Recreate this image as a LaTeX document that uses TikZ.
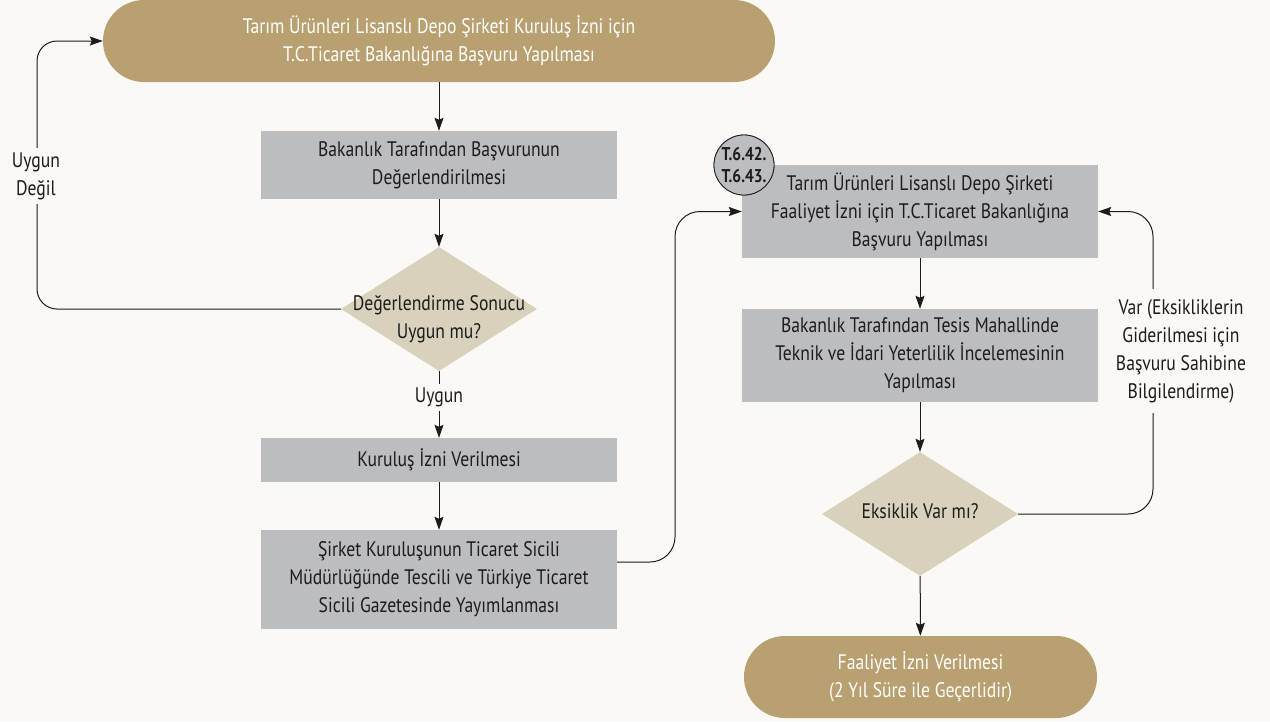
\documentclass[tikz,border=0pt]{standalone}
\usepackage{fontspec}
\setmainfont{PT Sans}[FakeStretch=0.84]
\usetikzlibrary{arrows.meta,shapes.geometric}
\definecolor{bg}{HTML}{FAF9F5}
\definecolor{gold}{HTML}{B9A070}
\definecolor{boxgray}{HTML}{BCBDC1}
\definecolor{diafill}{HTML}{D8D1BB}
\definecolor{ink}{HTML}{1E1B1C}
\tikzset{
 base/.style={font=\fontsize{21}{28}\selectfont, align=center, text=ink, inner sep=0pt},
 gbox/.style={base, fill=boxgray, minimum width=356pt},
 term/.style={base, fill=gold, text=white, rounded corners=41pt, minimum height=82pt},
 dia/.style={diamond, fill=diafill, minimum width=196pt, minimum height=124pt, inner sep=0pt},
 conn/.style={draw=ink, line width=1pt, -{Stealth[length=13pt,width=9pt,inset=2pt]}},
 lbl/.style={base, fill=bg, inner xsep=3pt, inner ysep=4pt},
 badge/.style={circle, draw=ink, line width=0.8pt, fill=boxgray, minimum size=60pt, inner sep=0pt, align=center, text=ink, font=\bfseries\fontsize{18.5}{22}\selectfont},
}
\begin{document}
\begin{tikzpicture}[x=1pt,y=-1pt]
\useasboundingbox (0,0) rectangle (1270,721);
\fill[bg] (0,0) rectangle (1270,721);

\node[term, minimum width=672pt] (s1) at (439,41) {Tarım Ürünleri Lisanslı Depo Şirketi Kuruluş İzni için\\T.C.Ticaret Bakanlığına Başvuru Yapılması};
\node[gbox, minimum height=68pt] (b1) at (439,165) {Bakanlık Tarafından Başvurunun\\Değerlendirilmesi};
\node[dia] (d1) at (439,309) {};
\node[base] (d1t) at (439,319) {Değerlendirme Sonucu\\Uygun mu?};
\node[gbox, minimum height=44pt] (b4) at (439,460) {Kuruluş İzni Verilmesi};
\node[gbox, minimum height=99pt] (b5) at (439,579.5) {Şirket Kuruluşunun Ticaret Sicili\\Müdürlüğünde Tescili ve Türkiye Ticaret\\Sicili Gazetesinde Yayımlanması};

\node[gbox, minimum height=93pt] (b2) at (920,211.5) {Tarım Ürünleri Lisanslı Depo Şirketi\\Faaliyet İzni için T.C.Ticaret Bakanlığına\\Başvuru Yapılması};
\node[gbox, minimum height=93pt] (b3) at (920,355.5) {Bakanlık Tarafından Tesis Mahallinde\\Teknik ve İdari Yeterlilik İncelemesinin\\Yapılması};
\node[dia] (d2) at (920,514) {};
\node[base] (d2t) at (920,511) {Eksiklik Var mı?};
\node[term, minimum width=353pt] (s2) at (920.5,677) {Faaliyet İzni Verilmesi\\(2 Yıl Süre ile Geçerlidir)};
\node[badge] (c1) at (744,165) {T.6.42.\\T.6.43.};

\draw[conn] (s1) -- (b1);
\draw[conn] (b1) -- (d1);
\draw[conn] (d1.south) -- node[lbl,pos=0.39] (u1) {Uygun} (b4.north);
\draw[conn] (b4) -- (b5);
\draw[conn, rounded corners=25pt] ([yshift=17.5pt]b5.east) -- (675,562) -- (675,211.5) -- (b2.west);
\draw[conn] (b2) -- (b3);
\draw[conn] (b3) -- (d2);
\draw[conn] (d2) -- (s2);
\draw[conn, rounded corners=25pt] (d2.east) -- (1153,514) -- (1153,211.5) -- (b2.east);
\node[lbl, inner ysep=10pt] (lv) at (1181,351) {Var (Eksikliklerin\\Giderilmesi için\\Başvuru Sahibine\\Bilgilendirme)};
\draw[conn, rounded corners=20pt] (d1.west) -- (37,309) -- (37,41) -- (s1.west);
\node[lbl] (lu) at (36,176) {Uygun\\Değil};
\node[badge] at (c1) {T.6.42.\\T.6.43.};
\end{tikzpicture}
\end{document}
